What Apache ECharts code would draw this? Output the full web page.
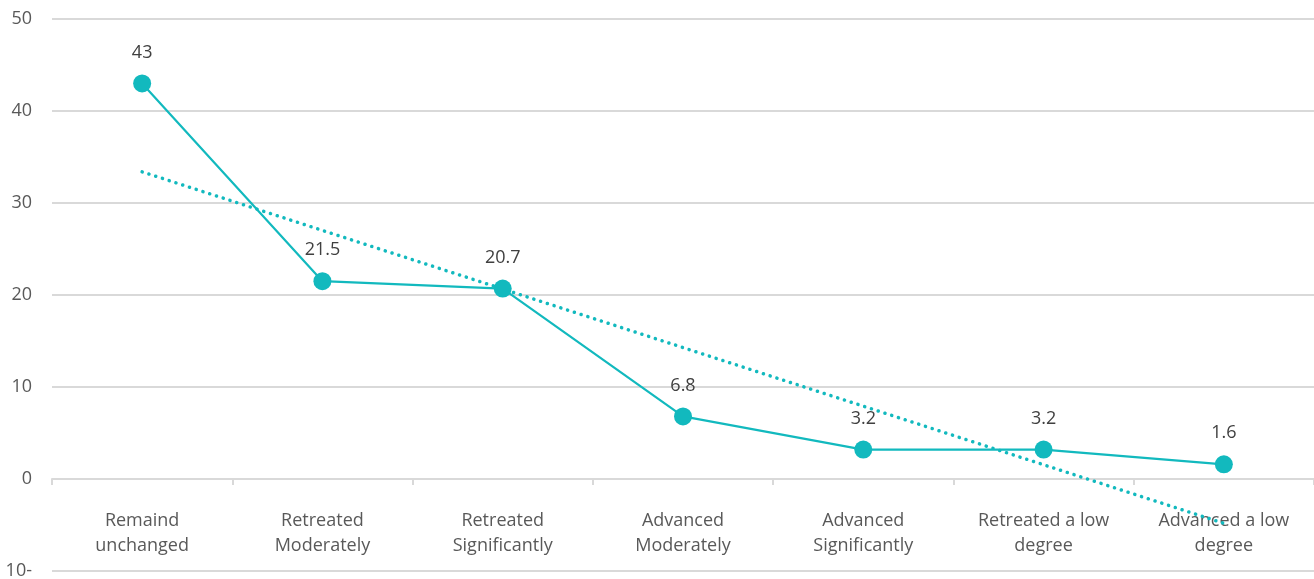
<!DOCTYPE html>
<html>
<head>
<meta charset="utf-8">
<script src="https://cdn.jsdelivr.net/npm/echarts@6/dist/echarts.min.js"></script>
<style>
  html, body { margin: 0; padding: 0; background: #ffffff; }
  #chart { width: 1314px; height: 579px; }
</style>
</head>
<body>
<div id="chart"></div>
<script>
// Survey responses: share of answers per category (%)
const categories = [
  'Remaind\nunchanged',
  'Retreated\nModerately',
  'Retreated\nSignificantly',
  'Advanced\nModerately',
  'Advanced\nSignificantly',
  'Retreated a low\ndegree',
  'Advanced a low\ndegree'
];
const shares = [43, 21.5, 20.7, 6.8, 3.2, 3.2, 1.6];
const yTicks = { min: -10, max: 50, step: 10 };

// Least-squares linear trend over the category index
function linearTrend(values) {
  const n = values.length;
  const mx = (n - 1) / 2;
  const my = values.reduce((a, b) => a + b, 0) / n;
  let sxy = 0, sxx = 0;
  values.forEach((v, i) => { sxy += (i - mx) * (v - my); sxx += (i - mx) * (i - mx); });
  const slope = sxy / sxx;
  return values.map((_, i) => +(my + slope * (i - mx)).toFixed(3));
}
const trend = linearTrend(shares);

const W = 1314, H = 579;
const gridTop = 19, gridBottom = 8;
// the category axis sits on the zero line: lift it by the share of the value range below zero
const plotH = H - gridTop - gridBottom;
const zeroLift = plotH * (0 - yTicks.min) / (yTicks.max - yTicks.min);

const teal = '#12B9BE';
const chart = echarts.init(document.getElementById('chart'));
chart.setOption({
  animation: false,
  textStyle: { fontFamily: '"Open Sans", Roboto, sans-serif' },
  grid: { left: 52, right: 0, top: gridTop, bottom: gridBottom, containLabel: false, outerBoundsMode: 'none' },
  xAxis: {
    type: 'category',
    data: categories,
    boundaryGap: true,
    position: 'bottom',
    offset: -zeroLift,
    axisLine: { onZero: false, lineStyle: { color: '#d9d9d9', width: 2 } },
    axisTick: { show: true, length: 6, lineStyle: { color: '#d9d9d9', width: 2 } },
    axisLabel: {
      color: '#595959', fontSize: 18, lineHeight: 25, margin: 29,
      interval: 0
    },
    splitLine: { show: false }
  },
  yAxis: {
    type: 'value',
    min: yTicks.min, max: yTicks.max, interval: yTicks.step,
    axisLine: { show: false },
    axisTick: { show: false },
    axisLabel: {
      color: '#595959', fontSize: 18, margin: 20,
      formatter: v => (v < 0 ? Math.abs(v) + '-' : String(v))
    },
    splitLine: { lineStyle: { color: '#d9d9d9', width: 2 } }
  },
  series: [
    {
      name: 'Share',
      type: 'line',
      data: shares,
      symbol: 'circle',
      symbolSize: 18,
      itemStyle: { color: teal },
      lineStyle: { color: teal, width: 2.2 },
      label: {
        show: true, position: 'top', distance: 13,
        color: '#404040', fontSize: 18
      },
      z: 3
    },
    {
      name: 'Trend',
      type: 'line',
      data: trend,
      symbol: 'none',
      lineStyle: { color: teal, width: 3.5, type: [0.1, 7], cap: 'round' },
      z: 2
    }
  ]
});
</script>
</body>
</html>
